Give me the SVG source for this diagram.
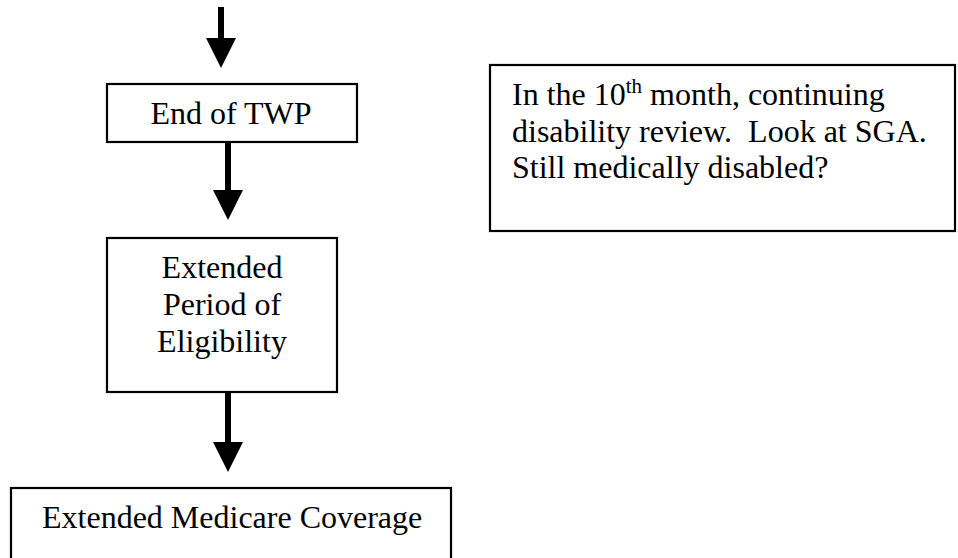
<svg xmlns="http://www.w3.org/2000/svg" width="958" height="558" viewBox="0 0 958 558">
<style>
  .box { fill: #ffffff; stroke: #000000; stroke-width: 2.2; }
  .t { font-family: "Liberation Serif", "Times New Roman", serif; font-size: 32px; fill: #000000; white-space: pre; }
  .c { text-anchor: middle; }
  .shaft { stroke: #000000; stroke-width: 6; fill: none; }
  .head { fill: #000000; stroke: none; }
</style>
<rect width="958" height="558" fill="#ffffff"/>
<g id="connectors">
  <line class="shaft" x1="221" y1="7" x2="221" y2="40"/>
  <polygon class="head" points="206,38 236,38 221,68"/>
  <line class="shaft" x1="228" y1="142" x2="228" y2="192"/>
  <polygon class="head" points="213,190 243,190 228,220"/>
  <line class="shaft" x1="228" y1="392" x2="228" y2="444"/>
  <polygon class="head" points="213,442 243,442 228,472"/>
</g>
<g id="end-of-twp">
  <rect class="box" x="107" y="84" width="250" height="58"/>
  <text class="t c" x="231" y="124">End of TWP</text>
</g>
<g id="extended-period">
  <rect class="box" x="107" y="238" width="230" height="154"/>
  <text class="t c" x="222" y="278">Extended</text>
  <text class="t c" x="222" y="315">Period of</text>
  <text class="t c" x="222" y="352">Eligibility</text>
</g>
<g id="extended-medicare">
  <rect class="box" x="11" y="488" width="440" height="90"/>
  <text class="t" x="42" y="528">Extended Medicare Coverage</text>
</g>
<g id="review-note">
  <rect class="box" x="490" y="65" width="465" height="166"/>
  <text class="t" x="512" y="105">In the 10<tspan font-size="21" dy="-12">th</tspan><tspan dy="12"> month, continuing</tspan></text>
  <text class="t" x="512" y="142">disability review.  Look at SGA.</text>
  <text class="t" x="512" y="178">Still medically disabled?</text>
</g>
</svg>
